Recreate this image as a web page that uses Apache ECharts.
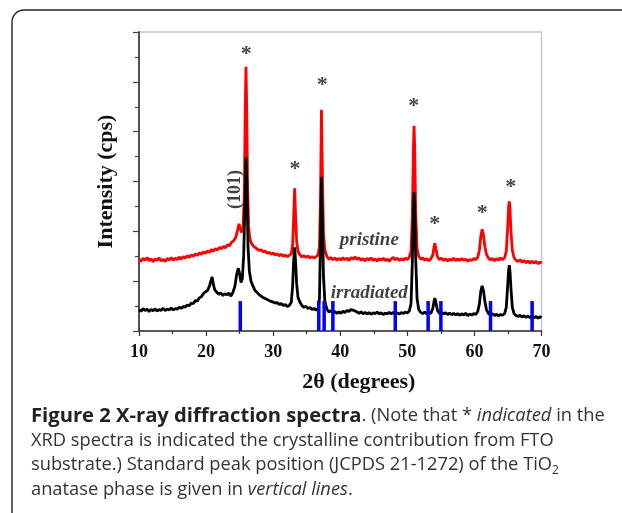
<!DOCTYPE html>
<html>
<head>
<meta charset="utf-8">
<script src="https://cdn.jsdelivr.net/npm/echarts/dist/echarts.min.js"></script>
<style>
html,body{margin:0;padding:0;background:#fff;}
#chart{width:622px;height:513px;}
</style>
</head>
<body>
<div id="chart"></div>
<script>
// x tick labels (2θ, degrees)
var xTicks = [10, 20, 30, 40, 50, 60, 70];

// pristine (red) spectrum: [2θ, intensity (a.u., offset)]
var pristine = [
[10.0,2.88],[10.3,2.80],[10.6,2.92],[10.9,2.84],[11.2,2.95],[11.5,2.82],[11.8,2.90],[12.1,2.78],[12.4,2.89],[12.7,2.83],
[13.0,2.93],[13.3,2.81],[13.6,2.87],[13.9,2.79],[14.2,2.91],[14.5,2.85],[14.8,2.94],[15.1,2.84],[15.4,2.92],[15.7,2.86],
[16.0,2.97],[16.3,2.88],[16.6,2.99],[16.9,2.92],[17.2,3.02],[17.5,2.95],[17.8,3.06],[18.1,2.99],[18.4,3.10],[18.7,3.03],
[19.0,3.14],[19.3,3.07],[19.6,3.18],[19.9,3.12],[20.2,3.22],[20.5,3.15],[20.8,3.27],[21.1,3.20],[21.4,3.31],[21.7,3.25],
[22.0,3.36],[22.3,3.29],[22.6,3.40],[22.9,3.34],[23.2,3.46],[23.5,3.42],[23.8,3.56],[24.1,3.62],[24.4,3.74],[24.7,4.05],
[24.9,4.30],[25.1,4.10],[25.3,3.95],[25.5,4.20],[25.7,5.40],[25.85,9.2],[25.95,10.6],[26.05,9.0],[26.2,5.6],[26.35,4.2],
[26.5,3.75],[26.7,3.55],[27.0,3.42],[27.3,3.35],[27.6,3.30],[27.9,3.24],[28.2,3.26],[28.5,3.18],[28.8,3.21],[29.1,3.12],
[29.4,3.16],[29.7,3.08],[30.0,3.13],[30.3,3.05],[30.6,3.10],[30.9,3.02],[31.2,3.08],[31.5,3.00],[31.8,3.05],[32.1,2.98],
[32.4,3.04],[32.7,3.10],[32.9,3.45],[33.05,4.50],[33.2,5.73],[33.35,4.55],[33.5,3.60],[33.7,3.20],[34.0,3.05],[34.3,2.97],
[34.6,3.03],[34.9,2.95],[35.2,3.01],[35.5,2.93],[35.8,2.99],[36.1,2.92],[36.4,2.98],[36.7,3.05],[36.9,3.40],[37.05,5.20],
[37.2,8.88],[37.35,6.10],[37.5,3.90],[37.7,3.25],[38.0,3.00],[38.3,2.88],[38.6,2.95],[38.9,2.86],[39.2,2.93],[39.5,2.84],
[39.8,2.91],[40.1,2.85],[40.4,2.94],[40.7,2.86],[41.0,2.92],[41.3,2.83],[41.6,2.95],[41.9,2.88],[42.2,2.97],[42.5,2.87],
[42.8,2.93],[43.1,2.84],[43.4,2.90],[43.7,2.82],[44.0,2.91],[44.3,2.85],[44.6,2.93],[44.9,2.83],[45.2,2.89],[45.5,2.81],
[45.8,2.90],[46.1,2.84],[46.4,2.92],[46.7,2.82],[47.0,2.88],[47.3,2.80],[47.6,2.89],[47.9,2.95],[48.2,2.86],[48.5,2.92],
[48.8,2.83],[49.1,2.90],[49.4,2.84],[49.7,2.92],[50.0,2.87],[50.3,2.96],[50.55,3.20],[50.75,4.60],[50.9,7.20],[51.0,8.24],
[51.1,7.30],[51.25,4.70],[51.45,3.30],[51.7,3.00],[52.0,2.88],[52.3,2.93],[52.6,2.84],[52.9,2.90],[53.2,2.82],[53.5,2.89],
[53.8,3.05],[54.0,3.40],[54.1,3.52],[54.25,3.30],[54.5,2.98],[54.8,2.86],[55.1,2.92],[55.4,2.83],[55.7,2.90],[56.0,2.81],
[56.3,2.88],[56.6,2.84],[56.9,2.92],[57.2,2.82],[57.5,2.89],[57.8,2.83],[58.1,2.91],[58.4,2.84],[58.7,2.88],[59.0,2.80],
[59.3,2.87],[59.6,2.83],[59.9,2.91],[60.2,2.86],[60.5,2.96],[60.75,3.25],[60.95,3.80],[61.15,4.08],[61.35,3.85],[61.55,3.40],
[61.8,3.08],[62.1,2.92],[62.4,2.85],[62.7,2.91],[63.0,2.82],[63.3,2.90],[63.6,2.84],[63.9,2.93],[64.2,2.86],[64.5,2.94],
[64.75,3.20],[64.95,4.10],[65.1,5.00],[65.2,5.20],[65.3,4.90],[65.45,4.00],[65.65,3.25],[65.9,2.95],[66.2,2.84],[66.5,2.79],
[66.8,2.86],[67.1,2.76],[67.4,2.83],[67.7,2.74],[68.0,2.81],[68.3,2.72],[68.6,2.80],[68.9,2.73],[69.2,2.79],[69.5,2.70],
[69.8,2.77],[70.0,2.71]
];

// irradiated (black) spectrum
var irradiated = [
[10.0,0.86],[10.3,0.79],[10.6,0.90],[10.9,0.82],[11.2,0.88],[11.5,0.78],[11.8,0.87],[12.1,0.81],[12.4,0.89],[12.7,0.80],
[13.0,0.86],[13.3,0.83],[13.6,0.91],[13.9,0.82],[14.2,0.88],[14.5,0.84],[14.8,0.92],[15.1,0.85],[15.4,0.90],[15.7,0.88],
[16.0,0.95],[16.3,0.91],[16.6,0.98],[16.9,0.96],[17.2,1.04],[17.5,1.02],[17.8,1.12],[18.1,1.10],[18.4,1.22],[18.7,1.20],
[19.0,1.33],[19.3,1.38],[19.6,1.50],[19.9,1.58],[20.2,1.62],[20.5,1.80],[20.7,2.00],[20.9,2.17],[21.1,1.85],[21.3,1.65],
[21.6,1.55],[21.9,1.48],[22.2,1.52],[22.5,1.42],[22.8,1.50],[23.1,1.45],[23.4,1.52],[23.7,1.40],[24.0,1.55],[24.3,1.80],
[24.55,2.25],[24.8,2.52],[25.0,2.30],[25.2,1.95],[25.4,2.10],[25.6,3.00],[25.8,5.20],[25.95,6.97],[26.1,5.60],[26.25,3.40],
[26.45,2.40],[26.7,2.00],[27.0,1.80],[27.3,1.62],[27.6,1.55],[27.9,1.46],[28.2,1.40],[28.5,1.34],[28.8,1.30],[29.1,1.26],
[29.4,1.22],[29.7,1.19],[30.0,1.16],[30.3,1.12],[30.6,1.14],[30.9,1.07],[31.2,1.10],[31.5,1.03],[31.8,1.06],[32.1,0.98],
[32.4,1.02],[32.7,1.15],[32.9,1.80],[33.05,2.80],[33.2,3.36],[33.35,2.75],[33.5,1.90],[33.7,1.35],[34.0,1.15],[34.3,1.02],
[34.6,0.95],[34.9,0.99],[35.2,0.90],[35.5,0.94],[35.8,0.86],[36.1,0.91],[36.4,0.84],[36.7,0.90],[36.9,1.30],[37.05,3.50],
[37.2,6.17],[37.35,4.20],[37.5,2.20],[37.7,1.20],[38.0,0.88],[38.3,0.76],[38.6,0.82],[38.9,0.72],[39.2,0.78],[39.5,0.70],
[39.8,0.77],[40.1,0.71],[40.4,0.80],[40.7,0.74],[41.0,0.82],[41.3,0.78],[41.6,0.86],[41.9,0.84],[42.2,0.80],[42.5,0.76],
[42.8,0.71],[43.1,0.77],[43.4,0.69],[43.7,0.75],[44.0,0.68],[44.3,0.74],[44.6,0.67],[44.9,0.73],[45.2,0.69],[45.5,0.76],
[45.8,0.68],[46.1,0.73],[46.4,0.66],[46.7,0.72],[47.0,0.68],[47.3,0.75],[47.6,0.69],[47.9,0.74],[48.2,0.67],[48.5,0.72],
[48.8,0.68],[49.1,0.74],[49.4,0.70],[49.7,0.76],[50.0,0.72],[50.3,0.80],[50.55,1.10],[50.75,2.80],[50.9,4.80],[51.0,5.57],
[51.1,4.90],[51.25,2.90],[51.45,1.30],[51.7,0.86],[52.0,0.74],[52.3,0.70],[52.6,0.76],[52.9,0.68],[53.2,0.73],[53.5,0.70],
[53.8,0.90],[54.0,1.22],[54.1,1.32],[54.25,1.15],[54.5,0.82],[54.8,0.70],[55.1,0.75],[55.4,0.68],[55.7,0.73],[56.0,0.66],
[56.3,0.72],[56.6,0.65],[56.9,0.71],[57.2,0.64],[57.5,0.70],[57.8,0.63],[58.1,0.69],[58.4,0.64],[58.7,0.71],[59.0,0.62],
[59.3,0.68],[59.6,0.64],[59.9,0.70],[60.2,0.66],[60.5,0.78],[60.75,1.10],[60.95,1.60],[61.15,1.81],[61.35,1.62],[61.55,1.20],
[61.8,0.85],[62.1,0.70],[62.4,0.64],[62.7,0.69],[63.0,0.62],[63.3,0.67],[63.6,0.61],[63.9,0.66],[64.2,0.63],[64.5,0.70],
[64.75,0.95],[64.95,1.80],[65.1,2.45],[65.2,2.64],[65.3,2.40],[65.45,1.70],[65.65,0.95],[65.9,0.70],[66.2,0.62],[66.5,0.58],
[66.8,0.63],[67.1,0.56],[67.4,0.61],[67.7,0.55],[68.0,0.60],[68.3,0.54],[68.6,0.59],[68.9,0.53],[69.2,0.58],[69.5,0.52],
[69.8,0.57],[70.0,0.53]
];

// JCPDS 21-1272 anatase standard peak positions (as drawn) and their line height
var anataseX = [25.1, 36.8, 37.6, 38.9, 48.2, 53.1, 55.0, 62.4, 68.6];
var anataseH = 1.2;

// FTO substrate peak markers (*)
var starX = [26.0, 33.25, 37.3, 50.95, 54.1, 61.15, 65.4];
var starY = [11.2, 6.55, 9.93, 9.11, 4.37, 4.8, 5.83];

// text annotations [x, y]
var label101 = [24.43, 5.68];
var labelPristine = [44.33, 3.66];
var labelIrradiated = [44.33, 1.53];

var serif = '"Liberation Serif","Times New Roman",Times,serif';
var sans = '"Open Sans", sans-serif';
var chart = echarts.init(document.getElementById('chart'), null, {renderer: 'canvas'});

var option = {
  animation: false,
  backgroundColor: '#ffffff',
  grid: {left: 139, right: 80.5, top: 32, bottom: 182, show: true, borderColor: '#c8c8c8', borderWidth: 1.5},
  xAxis: {
    type: 'value', min: 10, max: 70, interval: 10,
    name: '2θ (degrees)', nameLocation: 'middle', nameGap: 40,
    nameTextStyle: {fontFamily: serif, fontWeight: 'bold', fontSize: 22, color: '#111', padding: [0, 0, 0, 37]},
    axisLine: {show: true, lineStyle: {color: '#333', width: 1.5}},
    axisTick: {show: true, inside: false, length: 5, lineStyle: {color: '#333', width: 1.2}},
    minorTick: {show: true, splitNumber: 2, length: 3, lineStyle: {color: '#333', width: 1.2}},
    axisLabel: {show: true, fontFamily: serif, fontWeight: 'bold', fontSize: 18, color: '#111', margin: 12,
      formatter: function (v) { return xTicks.indexOf(v) >= 0 ? String(v) : ''; }},
    splitLine: {show: false}
  },
  yAxis: {
    type: 'value', min: 0, max: 12, interval: 2,
    name: 'Intensity (cps)', nameLocation: 'middle', nameGap: 22,
    nameTextStyle: {fontFamily: serif, fontWeight: 'bold', fontSize: 22, color: '#111'},
    axisLine: {show: true, lineStyle: {color: '#444', width: 1.8}},
    axisTick: {show: true, inside: false, length: 6, lineStyle: {color: '#444', width: 1.2}},
    minorTick: {show: true, splitNumber: 2, length: 4, lineStyle: {color: '#444', width: 1.2}},
    axisLabel: {show: false},
    splitLine: {show: false}
  },
  series: [
    {
      name: 'pristine', type: 'line', data: pristine, showSymbol: false, symbol: 'none',
      lineStyle: {color: '#ff0000', width: 2.8}, z: 2
    },
    {
      name: 'irradiated', type: 'line', data: irradiated, showSymbol: false, symbol: 'none',
      lineStyle: {color: '#000000', width: 2.8}, z: 3
    },
    {
      name: 'anatase (JCPDS 21-1272)', type: 'custom', z: 4,
      data: anataseX.map(function (x) { return [x, anataseH]; }),
      renderItem: function (params, api) {
        var top = api.coord([api.value(0), api.value(1)]);
        var bot = api.coord([api.value(0), 0]);
        return {type: 'rect', shape: {x: top[0] - 1.75, y: top[1], width: 3.5, height: bot[1] - top[1]},
          style: {fill: '#0000ff'}};
      }
    },
    {
      name: 'FTO', type: 'scatter', z: 5, symbolSize: 0,
      data: starX.map(function (x, i) { return [x, starY[i]]; }),
      label: {show: true, position: 'inside', formatter: '*', fontFamily: serif, fontWeight: 'bold',
        fontSize: 22, color: '#111', offset: [0, 2]}
    },
    {
      name: 'annotations', type: 'scatter', z: 5, symbolSize: 0,
      data: [
        {value: label101, label: {formatter: '(101)', rotate: 90, fontStyle: 'normal', fontSize: 18}},
        {value: labelPristine, label: {formatter: 'pristine'}},
        {value: labelIrradiated, label: {formatter: 'irradiated'}}
      ],
      label: {show: true, position: 'inside', fontFamily: serif, fontWeight: 'bold', fontStyle: 'italic',
        fontSize: 19, color: '#111'}
    }
  ],
  graphic: [
    {type: 'rect', silent: true, z: 0,
      shape: {x: 12, y: 10, width: 700, height: 600, r: [12, 0, 0, 0]},
      style: {fill: 'none', stroke: '#222', lineWidth: 1.4}},
    {type: 'text', left: 31, top: 404, silent: true,
      style: {
        text: '{b|Figure 2 X-ray diffraction spectra}. (Note that * {i|indicated} in the\n' +
              'XRD spectra is indicated the crystalline contribution from FTO\n' +
              'substrate.) Standard peak position (JCPDS 21-1272) of the TiO{sub|2}\n' +
              'anatase phase is given in {i|vertical lines}.',
        font: '18.3px ' + sans, fill: '#333', lineHeight: 24.5,
        rich: {
          b: {fontFamily: sans, fontWeight: 'bold', fontSize: 20.2, fill: '#222', lineHeight: 24.5},
          i: {fontFamily: sans, fontStyle: 'italic', fontSize: 18.3, fill: '#333', lineHeight: 24.5},
          sub: {fontFamily: sans, fontSize: 12, fill: '#333', padding: [11, 0, 0, 0], lineHeight: 24.5}
        }
      }}
  ]
};
chart.setOption(option);
</script>
</body>
</html>
